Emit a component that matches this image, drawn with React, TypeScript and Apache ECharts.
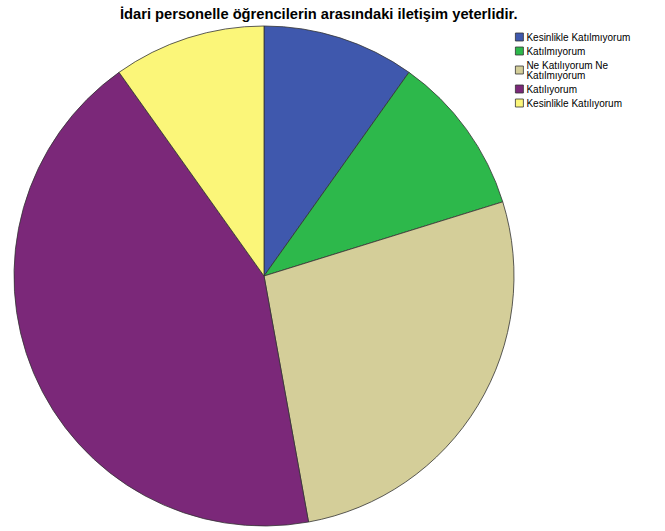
import React, { useEffect, useRef } from "react";
import * as echarts from "echarts";

const categories = [
  "Kesinlikle Katılmıyorum",
  "Katılmıyorum",
  "Ne Katılıyorum Ne Katılmıyorum",
  "Katılıyorum",
  "Kesinlikle Katılıyorum",
];
const values = [19, 20, 52, 83, 19];
const colors = ["#3F58AD", "#2DB84B", "#D4CE99", "#7B2879", "#FBF679"];
const titleText = "İdari personelle öğrencilerin arasındaki iletişim yeterlidir.";

export default function App() {
  const ref = useRef<HTMLDivElement>(null);
  useEffect(() => {
    if (!ref.current) return;
    const chart = echarts.init(ref.current, null, { renderer: "svg" });
    chart.setOption({
      animation: false,
      backgroundColor: "#ffffff",
      title: {
        text: titleText,
        left: 115,
        top: 1,
        textStyle: {
          fontFamily: "Liberation Sans, Arial, sans-serif",
          fontSize: 14.7,
          fontWeight: "bold",
          color: "#000",
        },
      },
      legend: {
        orient: "vertical",
        left: 510,
        top: 27,
        itemWidth: 8,
        itemHeight: 8,
        itemGap: 4,
        icon: "rect",
        selectedMode: false,
        data: categories,
        formatter: (name: string) =>
          name === "Ne Katılıyorum Ne Katılmıyorum" ? "Ne Katılıyorum Ne\nKatılmıyorum" : name,
        itemStyle: { borderColor: "#333", borderWidth: 0.8 },
        textStyle: {
          fontFamily: "Liberation Sans, Arial, sans-serif",
          fontSize: 10,
          lineHeight: 10,
          color: "#000",
          padding: [0, 0, 0, -2],
        },
      },
      series: [
        {
          type: "pie",
          center: [264, 276],
          radius: 250,
          startAngle: 90,
          clockwise: true,
          label: { show: false },
          labelLine: { show: false },
          emphasis: { disabled: true },
          itemStyle: { borderColor: "#333", borderWidth: 0.8 },
          data: categories.map((c, i) => ({
            name: c,
            value: values[i],
            itemStyle: { color: colors[i] },
          })),
        },
      ],
    });
    return () => chart.dispose();
  }, []);
  return (
    <div
      ref={ref}
      style={{ position: "fixed", left: 0, top: 0, width: 665, height: 531 }}
    />
  );
}
